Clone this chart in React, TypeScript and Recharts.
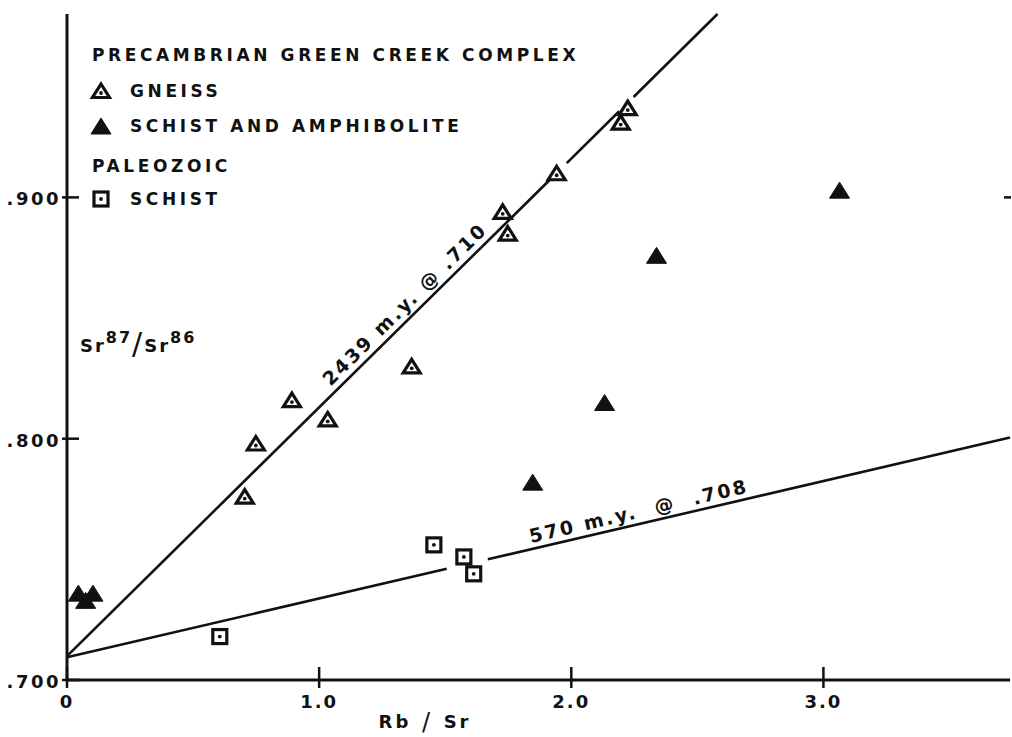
import React from "react";
import {Legend, ReferenceLine, Scatter, ScatterChart, XAxis, YAxis} from "recharts";

const INK = "#111";
const FONT = "'DejaVu Sans', sans-serif";

// Precambrian Green Creek complex - gneiss (open triangles)
const gneiss = [
    {x: 0.705, y: 0.776},
    {x: 0.749, y: 0.798},
    {x: 0.892, y: 0.816},
    {x: 1.034, y: 0.808},
    {x: 1.367, y: 0.830},
    {x: 1.728, y: 0.894},
    {x: 1.748, y: 0.885},
    {x: 1.942, y: 0.910},
    {x: 2.196, y: 0.931},
    {x: 2.224, y: 0.937},
];

// schist and amphibolite (filled triangles)
const schistAmph = [
    {x: 0.045, y: 0.736},
    {x: 0.103, y: 0.736},
    {x: 0.074, y: 0.733},
    {x: 1.847, y: 0.782},
    {x: 2.132, y: 0.815},
    {x: 2.338, y: 0.876},
    {x: 3.064, y: 0.903},
];

// Paleozoic schist (dotted squares)
const paleoSchist = [
    {x: 0.606, y: 0.718},
    {x: 1.455, y: 0.756},
    {x: 1.574, y: 0.751},
    {x: 1.613, y: 0.744},
];

// isochrons, drawn in pieces (gaps round the symbols like the original)
const iso2439 = [
    [{x: 0, y: 0.7099}, {x: 1.914, y: 0.9072}],
    [{x: 1.982, y: 0.9142}, {x: 2.19, y: 0.9357}],
    [{x: 2.247, y: 0.9416}, {x: 2.58, y: 0.976}],
];
const iso570 = [
    [{x: 0, y: 0.7094}, {x: 1.506, y: 0.7461}],
    [{x: 1.669, y: 0.7500}, {x: 3.74, y: 0.8005}],
];
const isoLabels = [
    {x: 1.375, y: 0.852, text: "2439 m.y. @ .710", angle: -44.6},
    {x: 2.279, y: 0.7649, text: "570 m.y.  @  .708", angle: -13.1},
];

const xTicks = [0, 1, 2, 3];
const xTickLabels = ["0", "1.0", "2.0", "3.0"];
const topTicks = [1, 2, 3];
const yTicks = [0.7, 0.8, 0.9];
const yTickLabels = [".700", ".800", ".900"];
const rightTicks = [0.9];

const txt = {fontFamily: FONT, fontWeight: 700, fill: INK} as const;

const OpenTriangle = ({cx, cy}: any) => (
    <g>
        <polygon points={`${cx},${cy - 7} ${cx + 8.5},${cy + 6.5} ${cx - 8.5},${cy + 6.5}`}
                 fill="#fff" stroke={INK} strokeWidth={3.2}/>
        <circle cx={cx} cy={cy + 2} r={1.9} fill={INK}/>
    </g>
);

const FilledTriangle = ({cx, cy}: any) => (
    <polygon points={`${cx},${cy - 8} ${cx + 10},${cy + 8} ${cx - 10},${cy + 8}`}
             fill={INK} stroke={INK} strokeWidth={1}/>
);

const DotSquare = ({cx, cy}: any) => (
    <g>
        <rect x={cx - 7} y={cy - 7} width={14} height={14} fill="#fff" stroke={INK} strokeWidth={3.2}/>
        <circle cx={cx} cy={cy} r={1.9} fill={INK}/>
    </g>
);

const IsoLabel = ({cx, cy, payload}: any) => (
    <text x={cx} y={cy} dy={-6} textAnchor="middle" fontSize={19} letterSpacing={2.4}
          transform={`rotate(${payload.angle} ${cx} ${cy})`} xmlSpace="preserve" {...txt}>
        {payload.text}
    </text>
);

const BottomTick = ({x, y, index}: any) => (
    <g>
        <line x1={x} x2={x} y1={y - 13} y2={y + 8} stroke={INK} strokeWidth={2.5}/>
        <text x={x} y={y + 28} textAnchor="middle" fontSize={18} letterSpacing={2} {...txt}>
            {xTickLabels[index]}
        </text>
    </g>
);

const TopTick = ({x, y}: any) => (
    <line x1={x} x2={x} y1={y} y2={y + 11} stroke={INK} strokeWidth={2.5}/>
);

const LeftTick = ({x, y, index}: any) => (
    <g>
        <line x1={x - 5} x2={x + 12} y1={y} y2={y} stroke={INK} strokeWidth={2.5}/>
        <text x={x - 6} y={y + 8} textAnchor="end" fontSize={18} letterSpacing={2.5} {...txt}>
            {yTickLabels[index]}
        </text>
    </g>
);

const RightTick = ({x, y}: any) => (
    <line x1={x - 6} x2={x + 1} y1={y} y2={y} stroke={INK} strokeWidth={2.5}/>
);

const YTitle = ({viewBox}: any) => {
    const x = viewBox.x + viewBox.width + 13;
    const y = viewBox.y + 338;
    return (
        <text x={x} y={y} fontSize={18} letterSpacing={2} {...txt}>
            Sr
            <tspan dy={-9} fontSize={16}>87</tspan>
            <tspan dy={11} fontSize={30} fontWeight={400}>/</tspan>
            <tspan dy={-2}>Sr</tspan>
            <tspan dy={-9} fontSize={16}>86</tspan>
        </text>
    );
};

const XTitle = ({viewBox}: any) => (
    <text x={viewBox.x + 358} y={viewBox.y + 48} textAnchor="middle" fontSize={18} letterSpacing={3} {...txt}>
        Rb<tspan fontSize={24} fontWeight={400} dy={2}> / </tspan><tspan dy={-2}>Sr</tspan>
    </text>
);

const legendRows = [
    {text: "PRECAMBRIAN GREEN CREEK COMPLEX", y: 61, sym: ""},
    {text: "GNEISS", y: 97, sym: "open"},
    {text: "SCHIST AND AMPHIBOLITE", y: 132, sym: "filled"},
    {text: "PALEOZOIC", y: 172, sym: ""},
    {text: "SCHIST", y: 205, sym: "square"},
];

const renderLegend = () => (
    <svg width={620} height={220} style={{display: 'block'}}>
        {legendRows.map((r) => (
            <g key={r.text}>
                {r.sym === "open" && <OpenTriangle cx={101} cy={r.y - 6}/>}
                {r.sym === "filled" && <FilledTriangle cx={101} cy={r.y - 6}/>}
                {r.sym === "square" && <DotSquare cx={101} cy={r.y - 6}/>}
                <text x={r.sym ? 130 : 92} y={r.y} fontSize={17} letterSpacing={3.6} {...txt}>
                    {r.text}
                </text>
            </g>
        ))}
    </svg>
);

export default function App() {
    return (
        <div style={{position: 'absolute', left: 0, top: 0, width: 1012, height: 737, overflow: 'hidden', background: '#fff'}}>
            <ScatterChart width={1012} height={737} margin={{top: 14, right: 1, bottom: 0, left: 0}}>
                <XAxis xAxisId="b" type="number" dataKey="x" domain={[0, 3.74]} ticks={xTicks} height={57}
                       allowDataOverflow interval={0} tickLine={false} tickSize={0} tickMargin={0}
                       axisLine={{stroke: INK, strokeWidth: 3}} tick={<BottomTick/>} label={<XTitle/>}/>
                <XAxis xAxisId="t" orientation="top" type="number" dataKey="x" domain={[0, 3.74]} ticks={topTicks}
                       height={0} allowDataOverflow interval={0} tickLine={false} tickSize={0} tickMargin={0}
                       axisLine={{stroke: INK, strokeWidth: 3}} tick={<TopTick/>}/>
                <YAxis yAxisId="l" type="number" dataKey="y" domain={[0.7, 0.976]} ticks={yTicks} width={67}
                       allowDataOverflow interval={0} tickLine={false} tickSize={0} tickMargin={0}
                       axisLine={{stroke: INK, strokeWidth: 3}} tick={<LeftTick/>} label={<YTitle/>}/>
                <YAxis yAxisId="r" orientation="right" type="number" dataKey="y" domain={[0.7, 0.976]}
                       ticks={rightTicks} width={1} allowDataOverflow interval={0} tickLine={false} tickSize={0}
                       tickMargin={0} axisLine={false} tick={<RightTick/>}/>
                <Legend layout="vertical" align="center" verticalAlign="middle" content={renderLegend}
                        wrapperStyle={{position: 'absolute', left: 0, top: 0, width: 620, height: 220}}/>
                {iso2439.concat(iso570).map((seg, i) => (
                    <ReferenceLine key={`iso-${i}`} xAxisId="b" yAxisId="l" segment={seg}
                                   stroke={INK} strokeWidth={2.6} ifOverflow="visible"/>
                ))}
                <Scatter name="labels" xAxisId="b" yAxisId="l" data={isoLabels} shape={<IsoLabel/>}
                         isAnimationActive={false}/>
                <Scatter name="Gneiss" xAxisId="b" yAxisId="l" data={gneiss} shape={<OpenTriangle/>}
                         isAnimationActive={false}/>
                <Scatter name="Schist and amphibolite" xAxisId="b" yAxisId="l" data={schistAmph}
                         shape={<FilledTriangle/>} isAnimationActive={false}/>
                <Scatter name="Paleozoic schist" xAxisId="b" yAxisId="l" data={paleoSchist} shape={<DotSquare/>}
                         isAnimationActive={false}/>
            </ScatterChart>
        </div>
    );
}
